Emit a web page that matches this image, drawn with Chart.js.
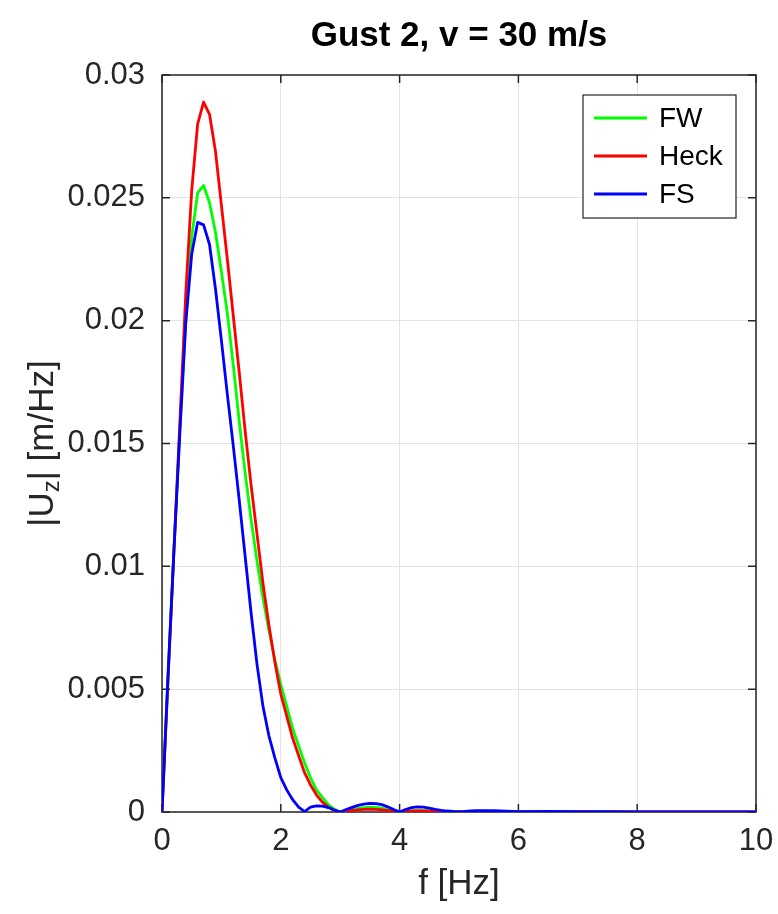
<!DOCTYPE html>
<html>
<head>
<meta charset="utf-8">
<script src="https://cdn.jsdelivr.net/npm/chart.js@4.4.0/dist/chart.umd.min.js"></script>
<style>
    body { margin: 0; background: #fff; }
    #gustChart { display: block; }
</style>
</head>
<body>
<canvas id="gustChart" width="778" height="914"></canvas>
<script>
// frequency axis [Hz]
const freq = [
    0, 0.1, 0.2, 0.3, 0.4, 0.5, 0.6, 0.7, 0.8, 0.9,
    1.0, 1.1, 1.2, 1.3, 1.4, 1.5, 1.6, 1.7, 1.8, 1.9,
    2.0, 2.1, 2.2, 2.3, 2.4, 2.5, 2.6, 2.7, 2.8, 2.9,
    3.0, 3.1, 3.2, 3.3, 3.4, 3.5, 3.6, 3.7, 3.8, 3.9,
    4.0, 4.1, 4.2, 4.3, 4.4, 4.5, 4.6, 4.7, 4.8, 4.9,
    5.0, 5.1, 5.2, 5.3, 5.4, 5.5, 5.6, 5.7, 5.8, 5.9,
    6.0, 6.5, 7.0, 7.5, 8.0, 8.5, 9.0, 9.5, 10.0
];

// |Uz| spectra [m/Hz]
const fw = [
    0, 0.0054, 0.0106, 0.0156, 0.0200, 0.0234, 0.0252, 0.0255, 0.0248, 0.0236,
    0.0220, 0.0203, 0.0182, 0.0159, 0.0138, 0.0119, 0.0102, 0.0087, 0.0074, 0.0062,
    0.0052, 0.0043, 0.0034, 0.0027, 0.0020, 0.0014, 0.0009, 0.0006, 0.0003, 0.00012,
    0, 0.00005, 0.0001, 0.00015, 0.00018, 0.0002, 0.00019, 0.00016, 0.0001, 0.00005,
    0, 0.00003, 0.00005, 0.00006, 0.00006, 0.00005, 0.00004, 0.00003, 0.00002, 0.00001,
    0, 0.00001, 0.00002, 0.00002, 0.00002, 0.00002, 0.00002, 0.00001, 0.00001, 0.00001,
    0, 0.00001, 0, 0.00001, 0, 0, 0, 0, 0
];
const heck = [
    0, 0.0053, 0.0106, 0.0158, 0.0211, 0.0253, 0.0280, 0.0289, 0.0284, 0.0269,
    0.0247, 0.0225, 0.0202, 0.0179, 0.0155, 0.0133, 0.0113, 0.0093, 0.0076, 0.0061,
    0.0048, 0.0039, 0.0030, 0.0023, 0.0016, 0.0011, 0.0007, 0.0004, 0.0002, 0.00006,
    0, 0.00003, 0.00006, 0.00009, 0.00011, 0.00012, 0.00011, 0.00009, 0.00006, 0.00003,
    0, 0.00002, 0.00003, 0.00004, 0.00004, 0.00003, 0.00003, 0.00002, 0.00001, 0,
    0, 0.00001, 0.00001, 0.00001, 0.00001, 0.00001, 0.00001, 0.00001, 0, 0,
    0, 0, 0, 0, 0, 0, 0, 0, 0
];
const fs = [
    0, 0.0055, 0.0106, 0.0154, 0.0199, 0.0227, 0.0240, 0.0239, 0.0231, 0.0213,
    0.0192, 0.0170, 0.0149, 0.0127, 0.0104, 0.0081, 0.0060, 0.0043, 0.0031, 0.0022,
    0.0014, 0.0009, 0.0005, 0.0002, 0.00002, 0.0002, 0.00025, 0.00024, 0.00018, 0.00008,
    0, 0.0001, 0.00019, 0.00027, 0.00032, 0.00035, 0.00034, 0.0003, 0.00021, 0.0001,
    0, 0.0001, 0.00018, 0.00021, 0.0002, 0.00016, 0.00011, 0.00007, 0.00004, 0.00002,
    0.00001, 0.00002, 0.00004, 0.00005, 0.00006, 0.00006, 0.00005, 0.00004, 0.00003, 0.00002,
    0.00001, 0.00002, 0.00001, 0.00001, 0, 0, 0, 0, 0
];

const seriesNames = ['FW', 'Heck', 'FS'];
const seriesColors = ['#00ff00', '#ff0000', '#0000ff'];
const xTicks = [0, 2, 4, 6, 8, 10];
const yTicks = [0, 0.005, 0.01, 0.015, 0.02, 0.025, 0.03];

const axisColor = '#262626';
const fontName = '"Liberation Sans", Arial, Helvetica, sans-serif';

function toPoints(ys) {
    return freq.map(function(f, i) { return { x: f, y: ys[i] }; });
}

// box, inward ticks, titles and legend, drawn straight onto the canvas
const decorations = {
    id: 'decorations',
    beforeDatasetsDraw: function(chart) {
        const ctx = chart.ctx;
        const a = chart.chartArea;
        const sx = chart.scales.x, sy = chart.scales.y;
        ctx.save();
        ctx.strokeStyle = axisColor;
        ctx.lineWidth = 1.5;
        ctx.strokeRect(a.left, a.top, a.right - a.left, a.bottom - a.top);
        ctx.beginPath();
        xTicks.forEach(function(t) {
            const px = sx.getPixelForValue(t);
            ctx.moveTo(px, a.bottom); ctx.lineTo(px, a.bottom - 8);
            ctx.moveTo(px, a.top); ctx.lineTo(px, a.top + 8);
        });
        yTicks.forEach(function(t) {
            const py = sy.getPixelForValue(t);
            ctx.moveTo(a.left, py); ctx.lineTo(a.left + 8, py);
            ctx.moveTo(a.right, py); ctx.lineTo(a.right - 8, py);
        });
        ctx.stroke();
        ctx.restore();
    },
    afterDraw: function(chart) {
        const ctx = chart.ctx;
        const a = chart.chartArea;
        const midX = (a.left + a.right) / 2;
        const midY = (a.top + a.bottom) / 2;
        ctx.save();

        // title
        ctx.fillStyle = '#000';
        ctx.font = 'bold 35px ' + fontName;
        ctx.textAlign = 'center';
        ctx.textBaseline = 'alphabetic';
        ctx.fillText('Gust 2, v = 30 m/s', midX, 46);

        // x label
        ctx.fillStyle = axisColor;
        ctx.font = '35px ' + fontName;
        ctx.fillText('f [Hz]', midX, 894);

        // y label with subscript z
        const big = '35px ' + fontName, small = '24px ' + fontName;
        const parts = [
            { t: '|U', f: big, dy: 0 },
            { t: 'z', f: small, dy: 6 },
            { t: '| [m/Hz]', f: big, dy: 0 }
        ];
        let total = 0;
        parts.forEach(function(p) { ctx.font = p.f; p.w = ctx.measureText(p.t).width; total += p.w; });
        ctx.translate(53, midY);
        ctx.rotate(-Math.PI / 2);
        ctx.textAlign = 'left';
        let cx = -total / 2;
        parts.forEach(function(p) {
            ctx.font = p.f;
            ctx.fillText(p.t, cx, p.dy);
            cx += p.w;
        });
        ctx.setTransform(1, 0, 0, 1, 0, 0);

        // legend
        const box = { x: 583, y: 95, w: 153, h: 123 };
        ctx.fillStyle = '#fff';
        ctx.fillRect(box.x, box.y, box.w, box.h);
        ctx.strokeStyle = axisColor;
        ctx.lineWidth = 1.2;
        ctx.strokeRect(box.x, box.y, box.w, box.h);
        ctx.font = '28px ' + fontName;
        ctx.textAlign = 'left';
        ctx.textBaseline = 'middle';
        chart.data.datasets.forEach(function(ds, i) {
            const ly = 118 + i * 38;
            ctx.strokeStyle = ds.borderColor;
            ctx.lineWidth = 3;
            ctx.beginPath();
            ctx.moveTo(594, ly); ctx.lineTo(647, ly);
            ctx.stroke();
            ctx.fillStyle = '#000';
            ctx.fillText(ds.label, 659, ly + 1);
        });
        ctx.restore();
    }
};

const ctx = document.getElementById('gustChart').getContext('2d');
const gustChart = new Chart(ctx, {
    type: 'line',
    data: {
        datasets: [
            { label: seriesNames[0], data: toPoints(fw), borderColor: seriesColors[0], order: 2 },
            { label: seriesNames[1], data: toPoints(heck), borderColor: seriesColors[1], order: 1 },
            { label: seriesNames[2], data: toPoints(fs), borderColor: seriesColors[2], order: 0 }
        ]
    },
    options: {
        responsive: false,
        animation: false,
        elements: {
            line: { borderWidth: 2.8, tension: 0, fill: false, borderJoinStyle: 'round' },
            point: { radius: 0 }
        },
        layout: { padding: { left: 0, top: 75, right: 22, bottom: 0 } },
        plugins: {
            legend: { display: false },
            tooltip: { enabled: false },
            title: { display: false }
        },
        scales: {
            x: {
                type: 'linear',
                min: 0,
                max: 10,
                afterBuildTicks: function(scale) { scale.ticks = xTicks.map(function(v) { return { value: v }; }); },
                afterFit: function(scale) {
                    scale.height = 102;
                    scale.paddingLeft = 0;
                    scale.paddingRight = 0;
                },
                grid: { color: '#e3e3e3', lineWidth: 1, drawTicks: false },
                border: { display: false },
                ticks: {
                    color: axisColor,
                    padding: 11,
                    font: { family: fontName, size: 31 },
                    maxRotation: 0,
                    callback: function(v) { return String(v); }
                }
            },
            y: {
                type: 'linear',
                min: 0,
                max: 0.03,
                afterBuildTicks: function(scale) { scale.ticks = yTicks.map(function(v) { return { value: v }; }); },
                afterFit: function(scale) {
                    scale.width = 162;
                    scale.paddingTop = 0;
                    scale.paddingBottom = 0;
                },
                grid: { color: '#e3e3e3', lineWidth: 1, drawTicks: false },
                border: { display: false },
                ticks: {
                    color: axisColor,
                    padding: 17,
                    font: { family: fontName, size: 31 },
                    callback: function(v) { return String(+v.toFixed(3)); }
                }
            }
        }
    },
    plugins: [decorations]
});
</script>
</body>
</html>
